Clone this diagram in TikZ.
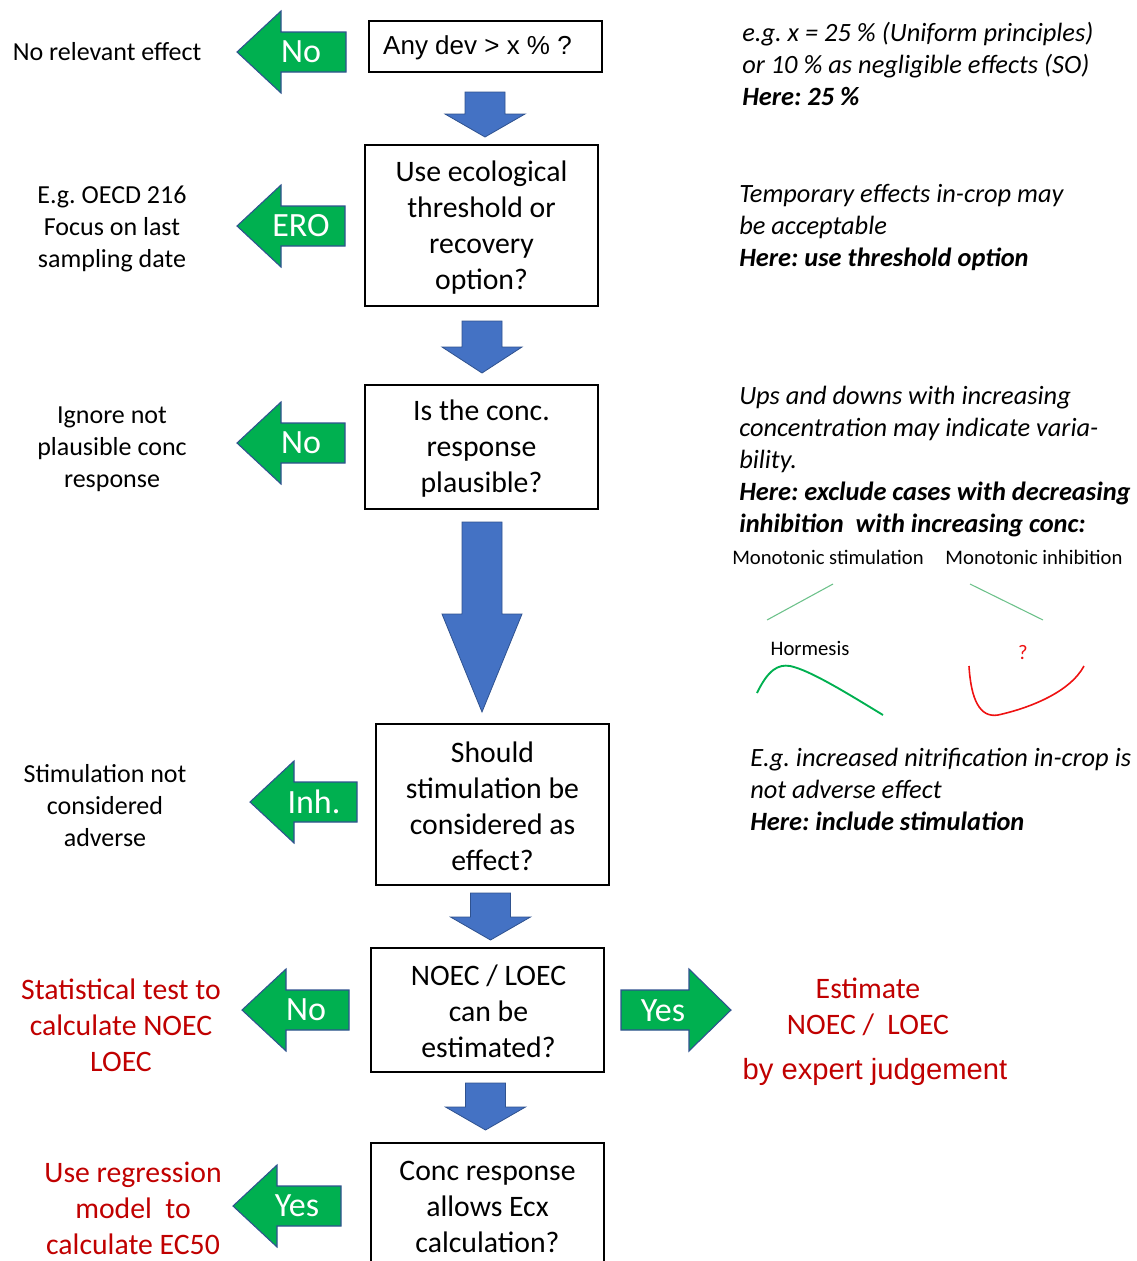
\documentclass[tikz,border=0pt]{standalone}
\usepackage{fontspec}
\setmainfont{Carlito}
\newfontfamily\arialf{Liberation Sans}
\definecolor{greenc}{HTML}{00B050}
\definecolor{bluec}{HTML}{4472C4}
\definecolor{bluedark}{HTML}{2F528F}
\definecolor{redc}{HTML}{C00000}
\definecolor{redcurve}{HTML}{EE1111}
\definecolor{lightgreen}{HTML}{6CC18A}
\tikzset{
  box/.style={draw=black, line width=1.1pt, inner sep=0pt, minimum width=174.75pt},
  boxtxt/.style={align=center, inner sep=0pt, font=\fontsize{22.3}{27}\selectfont},
  side/.style={font=\fontsize{19.5}{24}\selectfont, align=center, inner sep=0pt},
  note/.style={font=\fontsize{19.8}{24}\selectfont\itshape, align=left, anchor=west, inner sep=0pt},
  redtxt/.style={text=redc, font=\fontsize{22.3}{27}\selectfont, align=center, inner sep=0pt},
  small/.style={font=\fontsize{15.5}{18}\selectfont, inner sep=0pt},
  garrow/.style={fill=greenc, draw=bluedark, line width=0.8pt, line join=miter},
  glabel/.style={text=white, font=\fontsize{25.5}{30}\selectfont, inner sep=0pt},
  barrow/.style={fill=bluec, draw=bluedark, line width=0.6pt},
}
\newcommand{\garrL}[5]{%
  \draw[garrow] (#2,#3) -- (#2+44,#3-41) -- (#2+44,#3-20) -- (#4,#3-20) -- (#4,#3+20) -- (#2+44,#3+20) -- (#2+44,#3+41) -- cycle;
  \node[glabel] (#1) at (#2+64,#3) {#5};}
\newcommand{\barrD}[4]{%
  \draw[barrow] (#1-20,#2) -- (#1+20,#2) -- (#1+20,#3) -- (#1+40,#3) -- (#1,#4) -- (#1-40,#3) -- (#1-20,#3) -- cycle;}
\frenchspacing
\begin{document}
\frenchspacing
\begin{tikzpicture}[x=0.75pt,y=-0.75pt]
\useasboundingbox (0,0) rectangle (1137,1261);

% boxes
\node[box, minimum height=38.25pt] (b1) at (485.5,46.5) {};
\node[box, minimum height=120.75pt] (b2) at (481.5,225.5) {};
\node[box, minimum height=93pt] (b3) at (481.5,447) {};
\node[box, minimum height=120.75pt] (b4) at (492.5,804.5) {};
\node[box, minimum height=93pt] (b5) at (487.5,1010) {};
\node[box, minimum height=93pt] (b6) at (487.5,1205) {};
\node[inner sep=0pt, font=\arialf\fontsize{19.5}{24}\selectfont] (t1) at (477.5,48) {Any dev > x \% ?};
\node[boxtxt] (t2) at (481.5,227.5) {Use ecological\\threshold or\\recovery\\option?};
\node[boxtxt] (t3) at (481.5,449) {Is the conc.\\response\\plausible?};
\node[boxtxt] (t4) at (492.5,806.5) {Should\\stimulation be\\considered as\\effect?};
\node[boxtxt] (t5) at (488.5,1011.5) {NOEC / LOEC\\can be\\estimated?};
\node[boxtxt] (t6) at (487.5,1206.5) {Conc response\\allows Ecx\\calculation?};

% blue down arrows
\barrD{485}{92}{114}{137}
\barrD{482}{321}{347}{373}
\barrD{482}{522}{614}{712}
\barrD{490.5}{893}{917}{940}
\barrD{485.5}{1083}{1107}{1130}

% green arrows
\garrL{g1}{237}{52}{346}{No}
\garrL{g2}{237}{226}{345}{ERO}
\garrL{g3}{237}{443}{345}{No}
\garrL{g4}{250}{802}{357}{Inh.}
\garrL{g5}{242}{1010}{349}{No}
\garrL{g6}{233}{1206}{341}{Yes}
\draw[garrow] (621,990) -- (689,990) -- (689,969) -- (731,1010) -- (689,1051) -- (689,1030) -- (621,1030) -- cycle;
\node[glabel] (g7) at (663,1011) {Yes};

% left texts
\node[side] (l1) at (107,52) {No relevant effect};
\node[side] (l2) at (112,229) {E.g. OECD 216\\Focus on last\\sampling date};
\node[side] (l3) at (112,449) {Ignore not\\plausible conc\\response};
\node[side] (l4) at (105,806) {Stimulation not\\considered\\adverse};
\node[redtxt] (l5) at (121,1025) {Statistical test to\\calculate NOEC\\LOEC};
\node[redtxt] (l6) at (133,1208) {Use regression\\model~~to\\calculate EC50};

% right results
\node[redtxt] (r5) at (868,1007) {Estimate\\NOEC /~~LOEC};
\node[text=redc, inner sep=0pt, font=\arialf\fontsize{21.9}{26}\selectfont] (r5b) at (875,1072) {by expert judgement};

% notes
\node[note] (n1) at (742,64) {e.g. x = 25 \% (Uniform principles)\\or 10 \% as negligible effects (SO)\\\textbf{Here: 25 \%}};
\node[note] (n2) at (739,227.5) {Temporary effects in-crop may\\be acceptable\\\textbf{Here: use threshold option}};
\node[note] (n3) at (739,462) {Ups and downs with increasing\\concentration may indicate varia-\\bility.\\\textbf{Here: exclude cases with decreasing}\\\textbf{inhibition~ with increasing conc:}};
\node[note] (n4) at (750,789.5) {E.g. increased nitrification in-crop is\\not adverse effect\\\textbf{Here: include stimulation}};

% small sketches
\node[small] (s1) at (828,557) {Monotonic stimulation};
\node[small] (s2) at (1034,557) {Monotonic inhibition};
\node[small] (s3) at (810,648) {Hormesis};
\node[small, text=redcurve] (s4) at (1023,653) {?};
\draw[lightgreen, line width=0.8pt] (767,620) -- (833,584);
\draw[lightgreen, line width=0.8pt] (970,584) -- (1043,620);
\draw[greenc, line width=1.4pt] (757,693) .. controls (768,670) and (778,664) .. (790,666) .. controls (810,670) and (850,695) .. (883,715);
\draw[redcurve, line width=1.2pt] (969,666) .. controls (971,700) and (980,718) .. (998,715) .. controls (1030,708) and (1070,692) .. (1084,666);
\end{tikzpicture}
\end{document}
